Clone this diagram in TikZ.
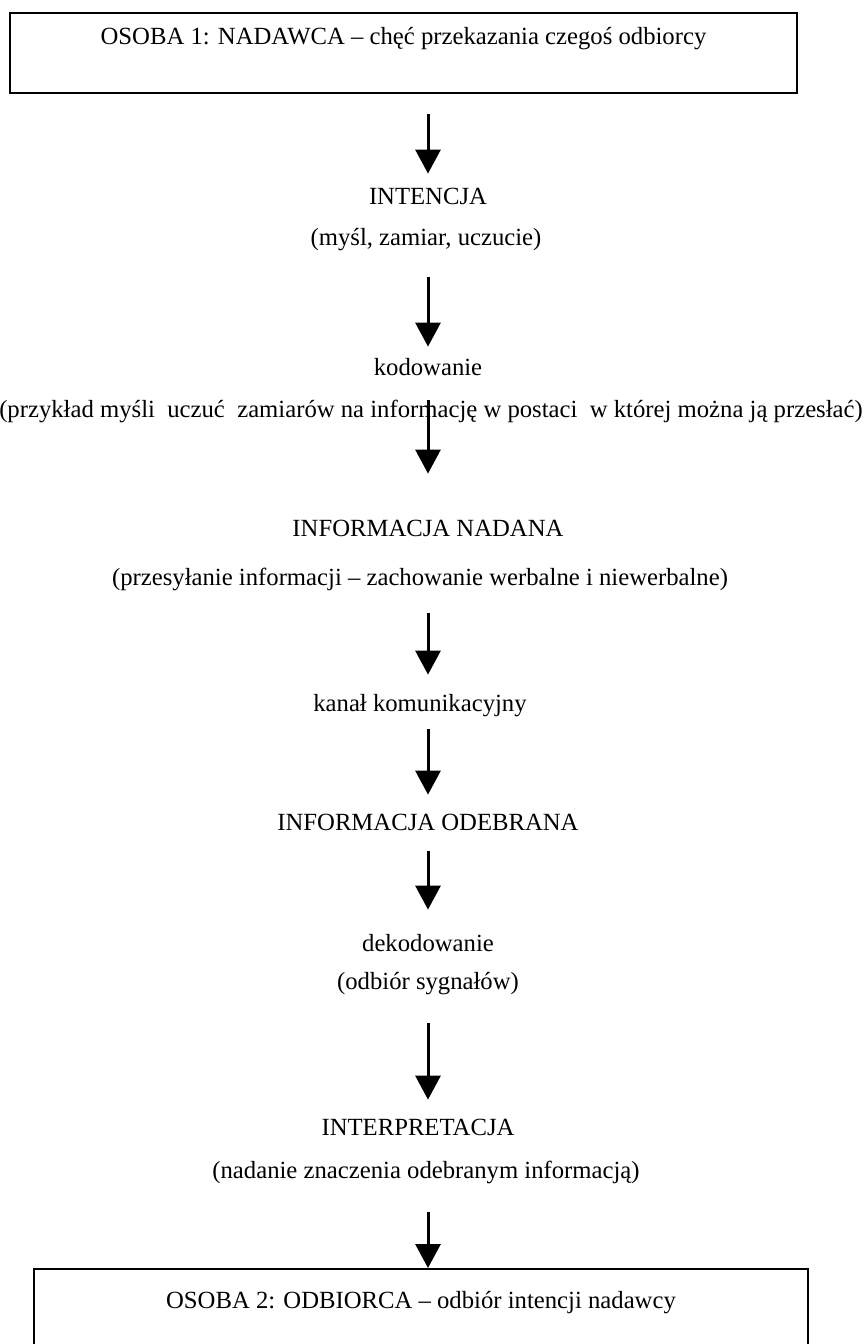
\documentclass[tikz,border=0pt]{standalone}
\usepackage{fontspec}
\setmainfont{Liberation Serif}
\usetikzlibrary{arrows.meta}

\begin{document}
\begin{tikzpicture}[x=0.5pt, y=-0.5pt,
  every node/.style={font=\fontsize{12.35}{14}\selectfont},
  osoba/.style={draw, line width=1pt, inner sep=0pt, anchor=north},
  etykieta/.style={inner sep=0pt, anchor=base, text height=9pt, text depth=3pt},
  strzalka/.style={line width=1.5pt, -{Triangle[length=12pt, width=12.5pt]}}]
\useasboundingbox (0,0) rectangle (864,1344);
\clip (0,0) rectangle (864,1344);

% Nadawca i odbiorca
\node[osoba, minimum width=393.5pt, text height=15.5pt, text depth=24.5pt] (osoba1) at (403.5,12)
  {OSOBA 1: NADAWCA – chęć przekazania czegoś odbiorcy};
\node[osoba, minimum width=387pt, text height=19.5pt, text depth=25pt] (osoba2) at (421,1268)
  {OSOBA 2: ODBIORCA – odbiór intencji nadawcy};

% Etapy
\node[etykieta] (intencja) at (428,204) {INTENCJA};
\node[etykieta] (intencjaopis) at (426,245) {(myśl, zamiar, uczucie)};
\node[etykieta] (kodowanie) at (428,375) {kodowanie};
\node[etykieta] (kodowanieopis) at (431,417)
  {(przykład myśli\ \ uczuć\ \ zamiarów na informację w postaci\ \ w której można ją przesłać)};
\node[etykieta] (nadana) at (428,536) {INFORMACJA NADANA};
\node[etykieta] (nadanaopis) at (420,585) {(przesyłanie informacji – zachowanie werbalne i niewerbalne)};
\node[etykieta] (kanal) at (420,711) {kanał komunikacyjny};
\node[etykieta] (odebrana) at (428,830) {INFORMACJA ODEBRANA};
\node[etykieta] (dekodowanie) at (428,951) {dekodowanie};
\node[etykieta] (dekodowanieopis) at (428,989) {(odbiór sygnałów)};
\node[etykieta] (interpretacja) at (418,1135) {INTERPRETACJA};
\node[etykieta] (interpretacjaopis) at (426,1178) {(nadanie znaczenia odebranym informacją)};

% Strzalki
\coordinate (os) at (428,0);
\draw[strzalka, shorten <=10pt, shorten >=6pt] (osoba1.south -| os) -- (intencja.north -| os);
\draw[strzalka, shorten <=13pt, shorten >=5pt] (intencjaopis.south -| os) -- (kodowanie.north -| os);
\draw[strzalka, shorten <=9.5pt, shorten >=22pt] (kodowanie.south -| os) -- (nadana.north -| os);
\draw[strzalka, shorten <=11pt, shorten >=9pt] (nadanaopis.south -| os) -- (kanal.north -| os);
\draw[strzalka, shorten <=6pt, shorten >=8.5pt] (kanal.south -| os) -- (odebrana.north -| os);
\draw[strzalka, shorten <=7.5pt, shorten >=11.5pt] (odebrana.south -| os) -- (dekodowanie.north -| os);
\draw[strzalka, shorten <=14pt, shorten >=8.5pt] (dekodowanieopis.south -| os) -- (interpretacja.north -| os);
\draw[strzalka, shorten <=14pt] (interpretacjaopis.south -| os) -- (osoba2.north -| os);

\end{tikzpicture}
\end{document}
